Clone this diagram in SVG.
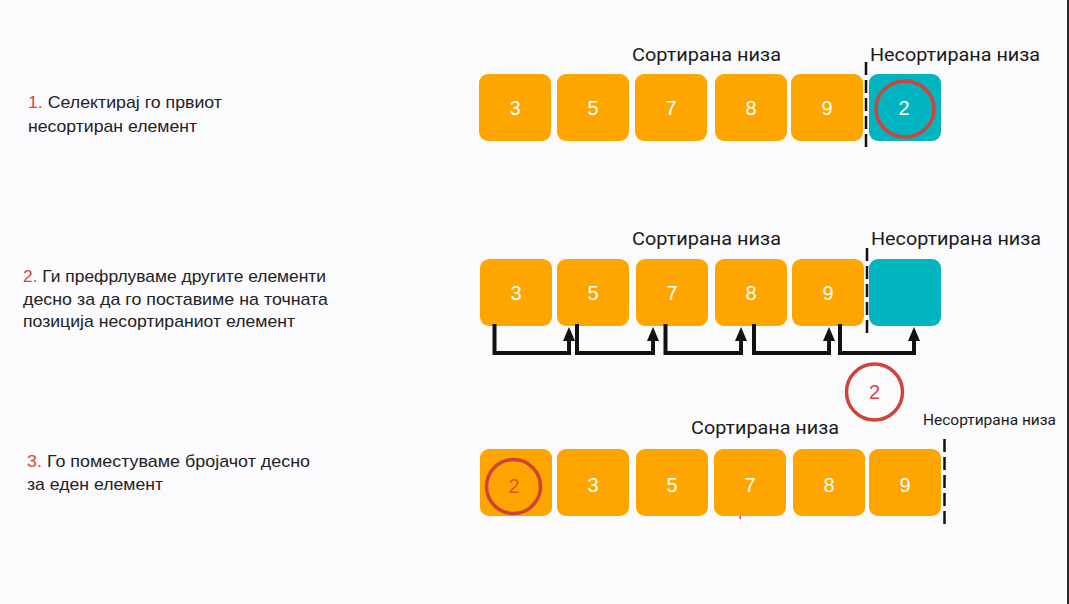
<svg xmlns="http://www.w3.org/2000/svg" width="1069" height="604" viewBox="0 0 1069 604">
<defs>
<style>
.bg{fill:#fbfafd}
.ob{fill:#ffa500}
.tb{fill:#00b5bf}
.num{font-family:"Liberation Sans",Arial,sans-serif;font-size:20px;fill:#ffffff;text-anchor:middle}
.lbl{font-family:Roboto,"Liberation Sans",sans-serif;font-size:19px;fill:#1a1a1a}
.desc{font-family:"Liberation Sans",Arial,sans-serif;font-size:17px;fill:#222222}
.red{fill:#e0463b}
.dash{stroke:#111111;stroke-width:2.5;stroke-dasharray:13 5;fill:none}
.conn{stroke:#111111;stroke-width:4;fill:none;stroke-linejoin:miter}
.ring{fill:none;stroke:#cf4339;stroke-width:3.5}
</style>
<marker id="ah" markerUnits="userSpaceOnUse" markerWidth="14" markerHeight="14" viewBox="0 0 14 14" refX="10" refY="7" orient="auto">
<path d="M0,1 L14,7 L0,13 z" fill="#111111"/>
</marker>
</defs>
<rect class="bg" x="0" y="0" width="1069" height="604"/>
<rect x="1067" y="0" width="2" height="604" fill="#2b2b2b"/>

<!-- Step 1 -->
<g id="step1-text">
<text class="desc" x="28" y="108" textLength="194" lengthAdjust="spacingAndGlyphs"><tspan class="red">1.</tspan> Селектирај го првиот</text>
<text class="desc" x="28" y="131.5" textLength="169" lengthAdjust="spacingAndGlyphs">несортиран елемент</text>
</g>
<g id="row1-labels">
<text class="lbl" x="632" y="60.5" textLength="149" lengthAdjust="spacingAndGlyphs">Сортирана низа</text>
<text class="lbl" x="870" y="60.5" textLength="170" lengthAdjust="spacingAndGlyphs">Несортирана низа</text>
</g>
<g id="r1n1"><rect class="ob" x="479" y="74" width="72" height="67" rx="9"/><text class="num" x="515" y="115">3</text></g>
<g id="r1n2"><rect class="ob" x="557" y="74" width="72" height="67" rx="9"/><text class="num" x="593" y="115">5</text></g>
<g id="r1n3"><rect class="ob" x="635" y="74" width="72" height="67" rx="9"/><text class="num" x="671" y="115">7</text></g>
<g id="r1n4"><rect class="ob" x="715" y="74" width="72" height="67" rx="9"/><text class="num" x="751" y="115">8</text></g>
<g id="r1n5"><rect class="ob" x="791" y="74" width="72" height="67" rx="9"/><text class="num" x="827" y="115">9</text></g>
<g id="r1n6"><rect class="tb" x="869" y="74" width="72" height="67" rx="9"/><text class="num" x="904" y="115">2</text><ellipse class="ring" cx="905" cy="109" rx="29" ry="28" stroke-width="4"/></g>
<line id="r1-divider" class="dash" x1="866" y1="62" x2="866" y2="150"/>

<!-- Step 2 -->
<g id="step2-text">
<text class="desc" x="23" y="282" textLength="303" lengthAdjust="spacingAndGlyphs"><tspan class="red">2.</tspan> Ги префрлуваме другите елементи</text>
<text class="desc" x="23" y="304.5" textLength="305" lengthAdjust="spacingAndGlyphs">десно за да го поставиме на точната</text>
<text class="desc" x="23" y="327" textLength="272" lengthAdjust="spacingAndGlyphs">позиција несортираниот елемент</text>
</g>
<g id="row2-labels">
<text class="lbl" x="632" y="245" textLength="149" lengthAdjust="spacingAndGlyphs">Сортирана низа</text>
<text class="lbl" x="871" y="245" textLength="170" lengthAdjust="spacingAndGlyphs">Несортирана низа</text>
</g>
<g id="r2n1"><rect class="ob" x="480" y="259" width="72" height="67" rx="9"/><text class="num" x="516" y="300">3</text></g>
<g id="r2n2"><rect class="ob" x="557" y="259" width="72" height="67" rx="9"/><text class="num" x="593" y="300">5</text></g>
<g id="r2n3"><rect class="ob" x="636" y="259" width="72" height="67" rx="9"/><text class="num" x="672" y="300">7</text></g>
<g id="r2n4"><rect class="ob" x="715" y="259" width="72" height="67" rx="9"/><text class="num" x="751" y="300">8</text></g>
<g id="r2n5"><rect class="ob" x="792" y="259" width="72" height="67" rx="9"/><text class="num" x="828" y="300">9</text></g>
<g id="r2n6"><rect class="tb" x="869" y="259" width="72" height="67" rx="9"/></g>
<line id="r2-divider" class="dash" x1="867" y1="248" x2="867" y2="335"/>
<g id="connectors">
<path class="conn" d="M494.5,324 V353 H569 V331" marker-end="url(#ah)"/>
<path class="conn" d="M577,324 V353 H653 V331" marker-end="url(#ah)"/>
<path class="conn" d="M665.5,324 V353 H741 V331" marker-end="url(#ah)"/>
<path class="conn" d="M754,324 V353 H829 V331" marker-end="url(#ah)"/>
<path class="conn" d="M840,324 V353 H914 V331" marker-end="url(#ah)"/>
</g>
<g id="moving-2">
<circle class="ring" cx="874.5" cy="392" r="28"/>
<text class="num" x="874.5" y="399" style="fill:#d9463c">2</text>
</g>

<!-- Step 3 -->
<g id="step3-text">
<text class="desc" x="27" y="467" textLength="283" lengthAdjust="spacingAndGlyphs"><tspan class="red">3.</tspan> Го поместуваме бројачот десно</text>
<text class="desc" x="27" y="490" textLength="136" lengthAdjust="spacingAndGlyphs">за еден елемент</text>
</g>
<g id="row3-labels">
<text class="lbl" x="691" y="434" textLength="148" lengthAdjust="spacingAndGlyphs">Сортирана низа</text>
<text class="lbl" x="923" y="425" style="font-size:15px" textLength="133" lengthAdjust="spacingAndGlyphs">Несортирана низа</text>
</g>
<g id="r3n1"><rect class="ob" x="480" y="449" width="72" height="67" rx="9"/><text class="num" x="514" y="493" style="fill:#e0562a">2</text><circle class="ring" cx="513.5" cy="486.5" r="27"/></g>
<g id="r3n2"><rect class="ob" x="557" y="449" width="72" height="67" rx="9"/><text class="num" x="593" y="492">3</text></g>
<g id="r3n3"><rect class="ob" x="636" y="449" width="72" height="67" rx="9"/><text class="num" x="672" y="492">5</text></g>
<g id="r3n4"><rect class="ob" x="714" y="449" width="72" height="67" rx="9"/><text class="num" x="750" y="492">7</text></g>
<g id="r3n5"><rect class="ob" x="793" y="449" width="72" height="67" rx="9"/><text class="num" x="829" y="492">8</text></g>
<g id="r3n6"><rect class="ob" x="869" y="449" width="72" height="67" rx="9"/><text class="num" x="905" y="492">9</text></g>
<line id="r3-divider" class="dash" x1="944.5" y1="439" x2="944.5" y2="527"/>
<rect x="739.5" y="516" width="1.5" height="3" fill="#e0463b"/>
</svg>
